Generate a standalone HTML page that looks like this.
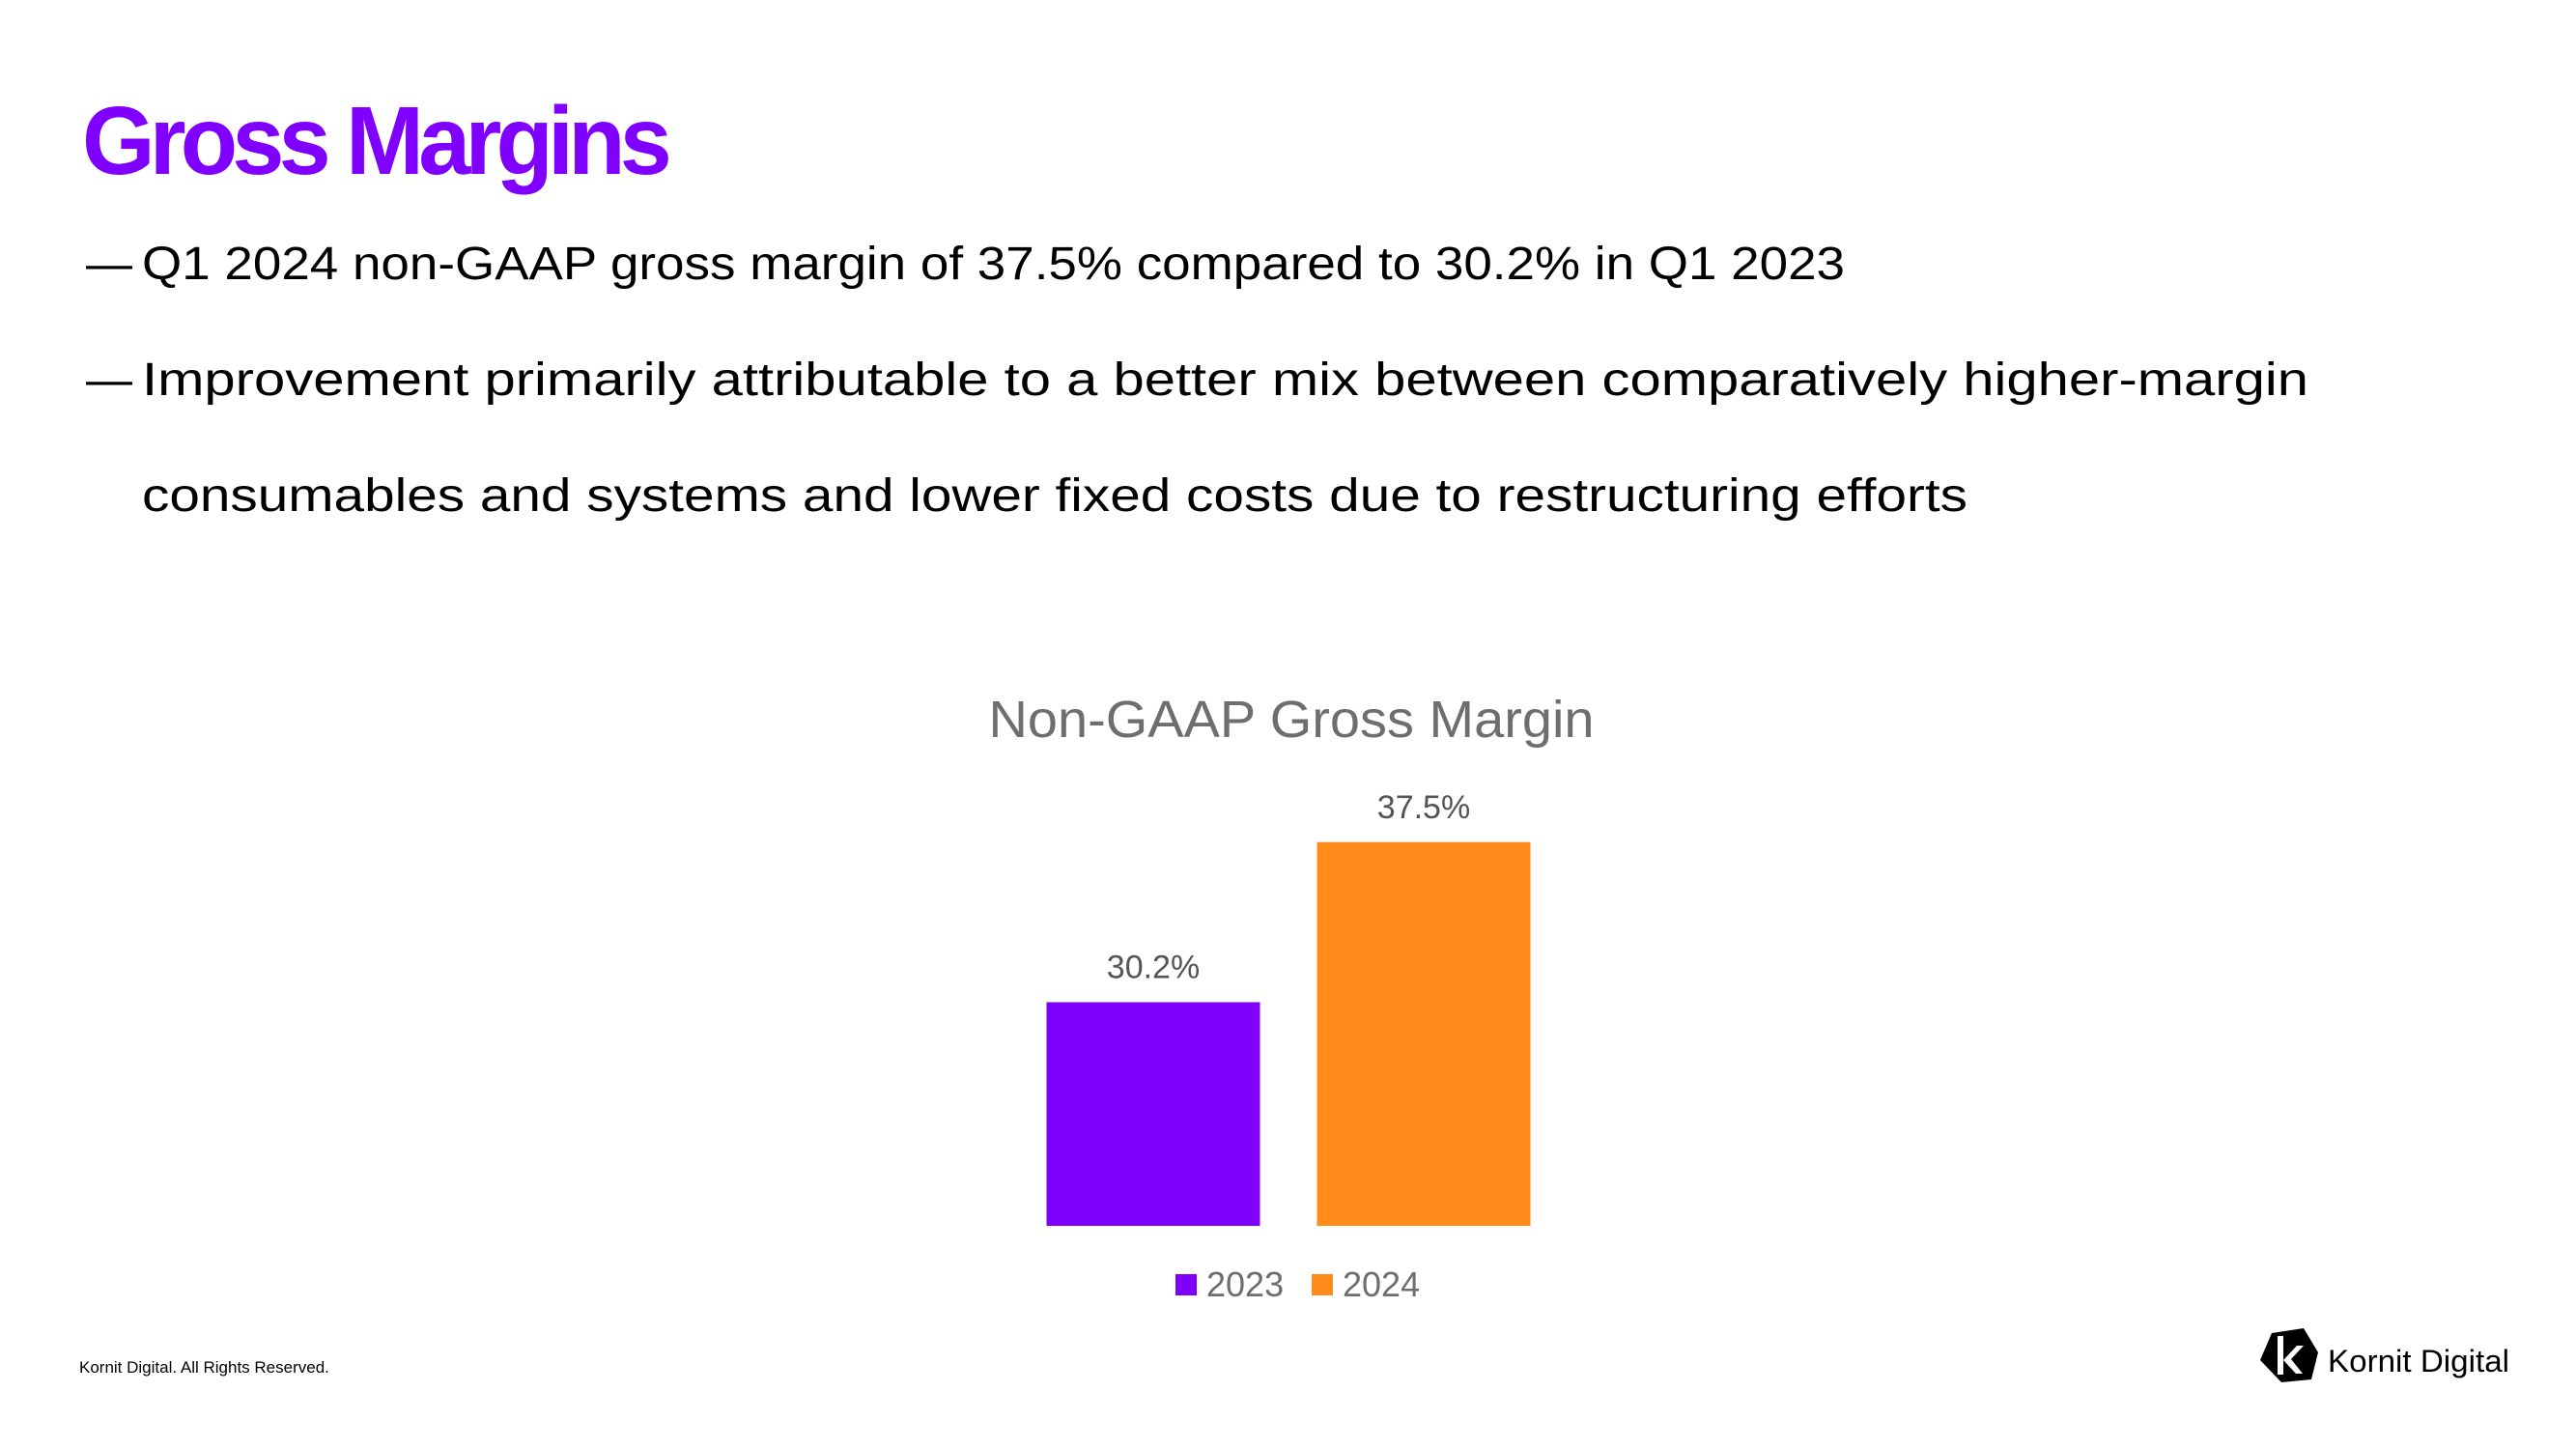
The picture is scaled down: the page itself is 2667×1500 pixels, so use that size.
<!DOCTYPE html>
<html><head><meta charset="utf-8"><style>
html,body{margin:0;padding:0;background:#fff;}
svg{display:block;font-family:"Liberation Sans",sans-serif;}
</style></head><body>
<svg id="page" width="2667" height="1500" viewBox="0 0 2667 1500">
<text x="85" y="180" font-size="100" font-weight="bold" fill="#8000ff" letter-spacing="-6" textLength="605" lengthAdjust="spacingAndGlyphs">Gross Margins</text>
<g font-size="48" fill="#000">
<text x="89" y="289">—</text>
<text x="147" y="289" textLength="1763" lengthAdjust="spacingAndGlyphs">Q1 2024 non-GAAP gross margin of 37.5% compared to 30.2% in Q1 2023</text>
<text x="89" y="409">—</text>
<text x="147" y="409" textLength="2243" lengthAdjust="spacingAndGlyphs">Improvement primarily attributable to a better mix between comparatively higher-margin</text>
<text x="147" y="529" textLength="1890" lengthAdjust="spacingAndGlyphs">consumables and systems and lower fixed costs due to restructuring efforts</text>
</g>
<text x="1337" y="763" font-size="54" fill="#6e6e6e" text-anchor="middle" textLength="627" lengthAdjust="spacingAndGlyphs">Non-GAAP Gross Margin</text>
<g id="bars"></g>
<g>
<rect x="1217" y="1319" width="22" height="22" fill="#8000ff"/>
<text x="1249" y="1342" font-size="36" fill="#6e6e6e">2023</text>
<rect x="1358" y="1319" width="22" height="22" fill="#ff8c1a"/>
<text x="1390" y="1342" font-size="36" fill="#6e6e6e">2024</text>
</g>
<text x="82" y="1421" font-size="17" fill="#000">Kornit Digital. All Rights Reserved.</text>
<g>
<polygon points="2352,1380 2385,1375 2400,1400 2393,1428 2362,1431 2340,1408" fill="#000"/>
<rect x="2358" y="1383" width="6" height="40" fill="#fff"/>
<polygon points="2364,1408 2378,1393 2385,1393 2372,1407 2384,1422 2377,1422" fill="#fff"/>
<text x="2410" y="1420" font-size="32" fill="#000" textLength="188" lengthAdjust="spacingAndGlyphs">Kornit Digital</text>
</g>
</svg>
<script>
const categories = ["2023", "2024"];
const values = [30.2, 37.5];
const valueLabels = ["30.2%", "37.5%"];
const colors = ["#8000ff", "#ff8c1a"];
const yMin = 20, yMax = 40;
const plotBottom = 1269, plotTop = 815;
const bandLeft = 1054, bandWidth = 280;
function yScale(v){ return plotBottom - (v - yMin) / (yMax - yMin) * (plotBottom - plotTop); }
function xScale(i){ return bandLeft + i * bandWidth; }
const g = document.getElementById('bars');
const NS = 'http://www.w3.org/2000/svg';
const barW = 221;
categories.forEach((c, i) => {
  const x = xScale(i) + (bandWidth - barW) / 2;
  const y = yScale(values[i]);
  const r = document.createElementNS(NS, 'rect');
  r.setAttribute('x', x); r.setAttribute('y', y);
  r.setAttribute('width', barW); r.setAttribute('height', plotBottom - y);
  r.setAttribute('fill', colors[i]);
  
  
  g.appendChild(r);
  const t = document.createElementNS(NS, 'text');
  t.setAttribute('x', x + barW / 2); t.setAttribute('y', y - 25);
  t.setAttribute('font-size', '34'); t.setAttribute('fill', '#555');
  t.setAttribute('text-anchor', 'middle');
  t.textContent = valueLabels[i];
  
  
  g.appendChild(t);
});
</script>
</body></html>
